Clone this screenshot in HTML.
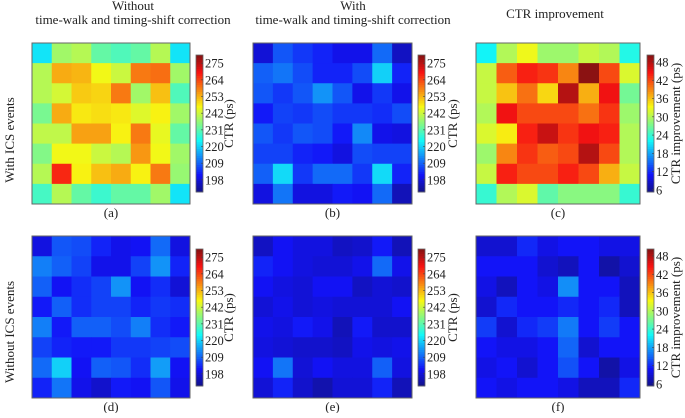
<!DOCTYPE html>
<html><head><meta charset="utf-8"><style>
body{margin:0;background:#fff;width:685px;height:413px;overflow:hidden}
svg text{font-family:"Liberation Serif",serif;fill:#222}
</style></head><body>
<svg id="fig" width="685" height="413"></svg>
<script>
const panelA=[[222,238,240,232,230,232,240,222],[240,254,253,246,242,259,260,238],[240,243,251,250,259,238,252,230],[234,254,248,249,248,244,247,238],[241,241,255,255,247,259,245,232],[235,246,246,242,240,256,246,238],[240,267,247,252,254,247,259,237],[229,240,232,228,232,232,238,222]];
const panelB=[[198,208,205,203,200,200,210,196],[209,211,207,203,203,207,220,203],[208,205,208,214,208,200,205,200],[202,206,205,207,205,205,204,207],[208,205,208,207,202,213,200,199],[206,206,203,202,199,207,206,206],[209,221,205,210,210,205,221,203],[199,211,199,199,202,201,210,195]];
const panelC=[[22,30,33,29,29,31,30,23],[31,41,44,43,39,50,42,32],[31,36,40,35,48,37,45,27],[30,45,42,42,42,40,43,29],[32,34,44,47,43,45,44,30],[29,39,43,41,42,48,42,30],[31,44,42,42,44,42,37,31],[24,30,32,26,28,28,28,24]];
const panelD=[[199,208,207,203,200,201,210,199],[212,209,206,200,200,206,214,203],[209,201,204,206,214,201,204,198],[202,209,204,206,206,203,205,204],[212,202,209,209,207,212,204,202],[206,203,202,202,205,205,206,207],[210,220,201,209,208,204,215,201],[203,211,200,197,202,201,208,200]];
const panelE=[[196,201,199,199,196,197,202,195],[203,201,199,198,198,200,210,200],[201,199,198,201,201,196,198,197],[198,200,198,199,198,198,198,201],[200,199,202,200,195,202,197,197],[199,198,197,197,196,200,199,200],[201,211,198,201,199,199,209,199],[198,203,197,194,198,198,203,195]];
const panelF=[[9,9,12,10,11,11,10,10],[11,11,11,9,8,11,7,9],[10,8,11,10,17,11,11,8],[9,12,11,11,12,11,12,8],[13,9,12,13,16,11,13,11],[11,10,10,11,15,9,11,11],[10,11,9,11,14,11,7,10],[11,10,11,11,10,8,8,12]];
const ctrTicks=[198,209,220,231,242,253,264,275];
const impTicks=[6,12,18,24,30,36,42,48];
const ctrRange=[190,280.4];
const impRange=[5.3,50.3];

const NS="http://www.w3.org/2000/svg";
const svg=document.getElementById('fig');
function mk(tag,attrs,parent){const e=document.createElementNS(NS,tag);for(const k in attrs)e.setAttribute(k,attrs[k]);(parent||svg).appendChild(e);return e;}
function clamp(v){return Math.max(0,Math.min(1,v));}
function jet(t){t=clamp(t);const r=clamp(1.5-Math.abs(4*t-3)),g=clamp(1.5-Math.abs(4*t-2)),b=clamp(1.5-Math.abs(4*t-1));
const f=c=>Math.round(c*255*0.9+18);return `rgb(${f(r)},${f(g)},${f(b)})`;}

function panel(data,x0,y0,w,h,range,ticks,cbx,cby,cbh,cbLabel,labX,name,letter){
  const g=mk('g',{});
  
  
  const n=data.length,cw=w/8,ch=h/n;
  data.forEach((row,i)=>row.forEach((v,j)=>{
    const r=mk('rect',{x:x0+j*cw,y:y0+i*ch,width:cw+0.5,height:ch+0.5,fill:jet((v-range[0])/(range[1]-range[0]))},g);
    
    
  }));
  mk('rect',{x:x0,y:y0,width:w,height:h,fill:'none',stroke:'#666','stroke-width':1},g);
  const cb=mk('g',{});
  
  
  const steps=60;
  for(let s=0;s<steps;s++){
    mk('rect',{x:cbx,y:cby+cbh-(s+1)*cbh/steps,width:7,height:cbh/steps+0.4,fill:jet((s+0.5)/steps)},cb);
  }
  mk('rect',{x:cbx,y:cby,width:7,height:cbh,fill:'none',stroke:'#666','stroke-width':0.8},cb);
  ticks.forEach(t=>{
    const y=cby+cbh-(t-range[0])/(range[1]-range[0])*cbh;
    mk('line',{x1:cbx+5,x2:cbx+7,y1:y,y2:y,stroke:'#444','stroke-width':0.6},cb);
    const tx=mk('text',{x:cbx+9,y:y+4.5,'font-size':12.5},cb);tx.textContent=t;
    
    
  });
  const cy=cby+cbh/2;
  const lt=mk('text',{x:labX,y:cy,'font-size':13,'text-anchor':'middle',transform:`rotate(-90 ${labX} ${cy})`},cb);
  lt.textContent=cbLabel;
  
  
  const pl=mk('text',{x:x0+w/2,y:y0+h+13,'font-size':13,'text-anchor':'middle'});
  pl.textContent='('+letter+')';
  
  
}
panel(panelA,32,43,158,161,ctrRange,ctrTicks,196,55,137,'CTR (ps)',233,'a','a');
panel(panelB,253,43,159,161,ctrRange,ctrTicks,418,55,137,'CTR (ps)',457,'b','b');
panel(panelC,476,43,164,161,impRange,impTicks,647,55,137,'CTR improvement (ps)',680,'c','c');
panel(panelD,32,236,158,162,ctrRange,ctrTicks,196,249,137,'CTR (ps)',233,'d','d');
panel(panelE,253,236,159,162,ctrRange,ctrTicks,418,249,137,'CTR (ps)',457,'e','e');
panel(panelF,476,236,164,162,impRange,impTicks,647,249,137,'CTR improvement (ps)',680,'f','f');

function txt(s,x,y,name,rot){const a={x:x,y:y,'font-size':13,'text-anchor':'middle'};if(rot)a.transform=`rotate(-90 ${x} ${y})`;const t=mk('text',a);t.textContent=s;

}
txt('Without',133,10,'column-title-a');
txt('time-walk and timing-shift correction',133,24,'column-title-a-line2');
txt('With',353,10,'column-title-b');
txt('time-walk and timing-shift correction',353,24,'column-title-b-line2');
txt('CTR improvement',555,18,'column-title-c');
txt('With ICS events',14,140,'row-title-top',true);
txt('Without ICS events',14,332,'row-title-bottom',true);
</script>
</body></html>
